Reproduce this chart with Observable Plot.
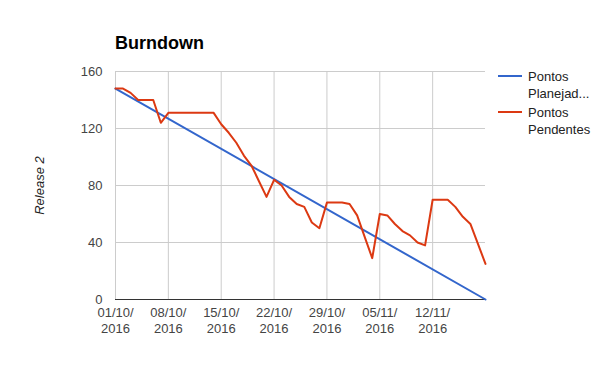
<!DOCTYPE html>
<html>
<head>
<meta charset="utf-8">
<script src="https://cdn.jsdelivr.net/npm/d3@7"></script>
<script src="https://cdn.jsdelivr.net/npm/@observablehq/plot@0.6"></script>
<style>
  body { margin: 0; background: #fff; font-family: "Liberation Sans", Arial, sans-serif; }
  #wrap { position: relative; width: 600px; height: 371px; overflow: hidden; }
  #title { position: absolute; left: 115px; top: 33px; font-size: 18px; font-weight: bold; color: #000; }
  #legend { position: absolute; left: 498px; top: 66px; font-size: 13px; color: #222; }
  .item { position: relative; height: 36px; }
  .sw { position: absolute; left: 0; top: 9px; width: 24px; height: 2px; }
  .lab { position: absolute; left: 30px; top: 2px; line-height: 17px; white-space: nowrap; }
  g[aria-label="y-axis label"] text { font-style: italic; fill: #222; }
</style>
</head>
<body>
<div id="wrap">
  <div id="chart"></div>
  <div id="title">Burndown</div>
  <div id="legend"></div>
</div>
<script>
// ---- data ----
const startDate = "2016-10-01";
const endDate = "2016-11-19";
const seriesNames = ["Pontos Planejados", "Pontos Pendentes"];
const legendLabels = [["Pontos", "Planejad..."], ["Pontos", "Pendentes"]];
const seriesColors = ["#3366cc", "#dc3912"];
// planned: straight line from start to end
const planejadosDates = ["2016-10-01", "2016-11-19"];
const planejados = [148, 0];
// pending points, one per day starting 01/10/2016
const pendentes = [148, 148, 145, 140, 140, 140, 124, 131, 131, 131,
                   131, 131, 131, 131, 123, 117, 110, 101, 94, 83,
                   72, 84, 80, 72, 67, 65, 54, 50, 68, 68,
                   68, 67, 59, 44, 29, 60, 59, 53, 48, 45,
                   40, 38, 70, 70, 70, 65, 58, 53, 39, 25];
const xTickDates = ["2016-10-01", "2016-10-08", "2016-10-15", "2016-10-22", "2016-10-29", "2016-11-05", "2016-11-12"];
const yTicks = [0, 40, 80, 120, 160];
const yLabel = "Release 2";

// ---- build ----
const parse = s => new Date(s + "T00:00:00Z");
const start = parse(startDate);
const planRows = planejadosDates.map((d, i) => ({date: parse(d), value: planejados[i]}));
const pendRows = pendentes.map((v, i) => ({date: new Date(start.getTime() + i * 86400000), value: v}));
const pad = n => String(n).padStart(2, "0");
const fmt = d => `${pad(d.getUTCDate())}/${pad(d.getUTCMonth() + 1)}/\n${d.getUTCFullYear()}`;

const chart = Plot.plot({
  width: 600,
  height: 371,
  marginTop: 71,
  marginBottom: 72,
  marginLeft: 115,
  marginRight: 115,
  style: {fontFamily: '"Liberation Sans", Arial, sans-serif', fontSize: "13px", color: "#444", background: "#fff"},
  x: {type: "utc", domain: [parse(startDate), parse(endDate)]},
  y: {domain: [0, 160]},
  marks: [
    Plot.gridY(yTicks, {stroke: "#ccc", strokeOpacity: 1}),
    Plot.gridX(xTickDates.map(parse), {stroke: "#ccc", strokeOpacity: 1}),
    Plot.ruleY([0], {stroke: "#333", strokeWidth: 1}),
    Plot.axisY(yTicks, {tickSize: 0, tickPadding: 13, label: yLabel, labelAnchor: "center", labelArrow: "none", labelOffset: 81, fill: "#444"}),
    Plot.axisX(xTickDates.map(parse), {tickSize: 0, tickPadding: 6, tickFormat: fmt, label: null, lineHeight: 1.25, fill: "#444"}),
    Plot.line(planRows, {x: "date", y: "value", stroke: seriesColors[0], strokeWidth: 2}),
    Plot.line(pendRows, {x: "date", y: "value", stroke: seriesColors[1], strokeWidth: 2})
  ]
});
document.getElementById("chart").appendChild(chart);

const legend = document.getElementById("legend");
legendLabels.forEach((lines, i) => {
  const item = document.createElement("div");
  item.className = "item";
  item.title = seriesNames[i];
  item.innerHTML = `<div class="sw" style="background:${seriesColors[i]}"></div><div class="lab">${lines.join("<br>")}</div>`;
  legend.appendChild(item);
});
</script>
</body>
</html>
